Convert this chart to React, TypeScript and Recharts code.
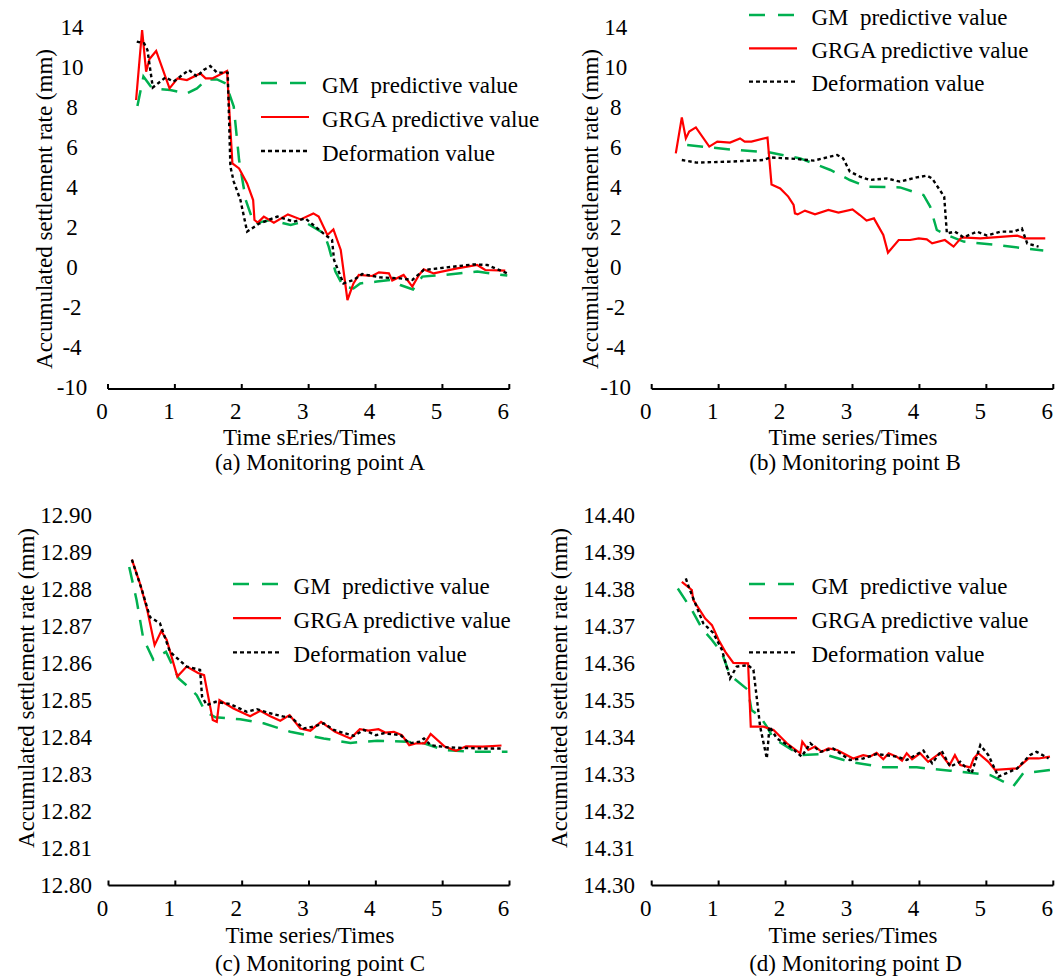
import React from 'react';
import { LineChart, Line, XAxis, YAxis, Legend } from 'recharts';

const FONT = '"Liberation Serif", "DejaVu Serif", "Times New Roman", serif';
const FS = 23;
const TEXT_STYLE = { fontFamily: FONT, fontSize: FS };

// ---- axis ticks and labels ----
const TIME_TICKS = [0, 1, 2, 3, 4, 5, 6];
const MARK_TICKS = [0, 1, 2, 3, 4, 5, 6, 7, 8, 9];
const RATE_TICKS_AB = [-6, -4, -2, 0, 2, 4, 6, 8, 10, 12];
const RATE_LABELS_AB = ['-10', '-4', '-2', '0', '2', '4', '6', '8', '10', '14'];
const RATE_TICKS_C = [12.8, 12.81, 12.82, 12.83, 12.84, 12.85, 12.86, 12.87, 12.88, 12.89, 12.9];
const RATE_TICKS_D = [14.3, 14.31, 14.32, 14.33, 14.34, 14.35, 14.36, 14.37, 14.38, 14.39, 14.4];

// ---- monitoring point A: [time, rate] ----
const gmA = [[0.44, 8.05], [0.53, 9.52], [0.66, 8.93], [0.93, 8.85], [1.18, 8.68], [1.33, 8.93], [1.48, 9.38], [1.63, 9.38], [1.76, 9.18], [1.88, 8.02], [1.96, 5.35], [2.06, 3.35], [2.18, 2.18], [2.43, 2.35], [2.73, 2.1], [2.93, 2.27], [3.23, 1.68], [3.3, 1.02], [3.4, -0.23], [3.52, -0.98], [3.67, -1.07], [3.77, -0.82], [4.02, -0.73], [4.22, -0.65], [4.37, -0.9], [4.56, -1.12], [4.7, -0.48], [5.02, -0.4], [5.52, -0.23], [5.97, -0.43]];
const grgaA = [[0.42, 8.35], [0.51, 11.85], [0.57, 9.77], [0.62, 10.4], [0.72, 10.8], [0.92, 8.93], [1.04, 9.43], [1.18, 9.35], [1.38, 9.68], [1.46, 9.43], [1.56, 9.43], [1.78, 9.8], [1.86, 5.18], [1.96, 4.93], [2.08, 4.18], [2.17, 3.35], [2.19, 2.35], [2.24, 2.22], [2.33, 2.52], [2.48, 2.22], [2.69, 2.63], [2.88, 2.38], [3.07, 2.68], [3.15, 2.52], [3.28, 1.6], [3.37, 1.88], [3.48, 0.85], [3.58, -1.65], [3.67, -0.82], [3.75, -0.4], [3.95, -0.45], [4.05, -0.27], [4.2, -0.32], [4.25, -0.68], [4.42, -0.4], [4.55, -0.98], [4.65, -0.4], [4.72, -0.12], [4.87, -0.32], [5.22, -0.07], [5.52, 0.1], [5.64, -0.15], [5.94, -0.18]];
const defA = [[0.43, 11.27], [0.54, 11.18], [0.59, 10.85], [0.67, 8.98], [0.86, 9.48], [0.98, 9.27], [1.21, 9.85], [1.33, 9.52], [1.43, 9.85], [1.53, 10.05], [1.63, 9.72], [1.79, 9.72], [1.83, 5.02], [1.88, 4.27], [1.98, 3.35], [2.08, 1.77], [2.25, 2.15], [2.53, 2.52], [2.78, 2.27], [2.95, 2.43], [3.25, 1.6], [3.35, 1.35], [3.38, 0.35], [3.52, -0.82], [3.67, -0.65], [3.8, -0.35], [4.07, -0.52], [4.37, -0.57], [4.55, -0.65], [4.72, -0.15], [5.12, 0], [5.47, 0.13], [5.67, 0.1], [5.97, -0.32]];

// ---- monitoring point B ----
const gmB = [[0.53, 6.1], [1.17, 5.88], [1.77, 5.72], [2.22, 5.43], [2.67, 4.85], [2.96, 4.35], [3.21, 4.02], [3.71, 3.98], [4.06, 3.6], [4.16, 3.02], [4.26, 1.85], [4.41, 1.6], [4.66, 1.27], [5.16, 1.1], [5.85, 0.82]];
const grgaB = [[0.36, 5.68], [0.45, 7.48], [0.51, 6.43], [0.56, 6.77], [0.66, 6.98], [0.86, 6.02], [0.98, 6.27], [1.17, 6.22], [1.32, 6.43], [1.39, 6.27], [1.49, 6.27], [1.73, 6.47], [1.79, 4.13], [1.92, 3.93], [2.04, 3.52], [2.12, 3.1], [2.14, 2.68], [2.18, 2.63], [2.29, 2.82], [2.44, 2.63], [2.64, 2.85], [2.79, 2.72], [3.0, 2.88], [3.11, 2.6], [3.21, 2.32], [3.32, 2.43], [3.46, 1.6], [3.53, 0.72], [3.69, 1.35], [3.86, 1.35], [3.99, 1.43], [4.11, 1.38], [4.19, 1.18], [4.38, 1.35], [4.51, 1.02], [4.63, 1.48], [4.91, 1.43], [5.26, 1.52], [5.46, 1.57], [5.58, 1.43], [5.88, 1.43]];
const defB = [[0.45, 5.35], [0.67, 5.22], [1.17, 5.27], [1.67, 5.35], [1.77, 5.48], [2.17, 5.4], [2.42, 5.32], [2.77, 5.6], [2.86, 5.43], [2.96, 4.77], [3.11, 4.52], [3.26, 4.35], [3.51, 4.43], [3.71, 4.27], [3.96, 4.48], [4.11, 4.57], [4.19, 4.43], [4.33, 3.72], [4.37, 3.52], [4.41, 1.68], [4.53, 1.77], [4.66, 1.48], [4.86, 1.77], [5.01, 1.57], [5.21, 1.77], [5.41, 1.77], [5.53, 1.93], [5.61, 1.18], [5.78, 1.02]];

// ---- monitoring point C ----
const gmC = [[0.31, 12.886], [0.42, 12.8771], [0.52, 12.8667], [0.67, 12.861], [0.86, 12.8631], [1.05, 12.8559], [1.22, 12.8532], [1.32, 12.8514], [1.45, 12.8469], [1.6, 12.8454], [1.97, 12.8449], [2.32, 12.8438], [2.72, 12.8415], [3.22, 12.8397], [3.62, 12.8385], [4.02, 12.8391], [4.47, 12.8388], [4.72, 12.8384], [5.02, 12.8366], [5.47, 12.8361], [5.97, 12.8361]];
const grgaC = [[0.35, 12.888], [0.47, 12.8816], [0.58, 12.8744], [0.69, 12.8649], [0.79, 12.8687], [0.87, 12.8664], [1.03, 12.8564], [1.17, 12.8591], [1.34, 12.8574], [1.43, 12.8568], [1.56, 12.8447], [1.62, 12.8442], [1.66, 12.8501], [1.87, 12.8478], [2.12, 12.8457], [2.27, 12.8472], [2.42, 12.8457], [2.57, 12.8445], [2.71, 12.846], [2.87, 12.8424], [3.02, 12.8418], [3.18, 12.8442], [3.39, 12.8415], [3.62, 12.8397], [3.76, 12.8422], [3.89, 12.8418], [4.04, 12.8422], [4.14, 12.8413], [4.27, 12.8415], [4.39, 12.8406], [4.5, 12.8379], [4.61, 12.8384], [4.73, 12.8384], [4.82, 12.8409], [5.03, 12.8375], [5.2, 12.8364], [5.35, 12.8376], [5.6, 12.8375], [5.88, 12.8378]];
const defC = [[0.35, 12.888], [0.5, 12.8798], [0.62, 12.8725], [0.77, 12.8708], [0.92, 12.8631], [1.17, 12.8591], [1.37, 12.8582], [1.4, 12.851], [1.47, 12.8487], [1.6, 12.8496], [1.82, 12.849], [2.07, 12.8469], [2.22, 12.8476], [2.42, 12.8465], [2.62, 12.8456], [2.72, 12.8456], [2.92, 12.8424], [3.07, 12.8429], [3.22, 12.8438], [3.37, 12.842], [3.67, 12.8404], [3.82, 12.842], [4.0, 12.8406], [4.12, 12.8411], [4.37, 12.8406], [4.5, 12.8384], [4.65, 12.8388], [4.72, 12.8397], [4.82, 12.8379], [5.07, 12.8373], [5.22, 12.8372], [5.62, 12.837], [5.88, 12.837]];

// ---- monitoring point D ----
const gmD = [[0.39, 14.3802], [0.6, 14.3744], [0.75, 14.3694], [0.9, 14.3663], [1.05, 14.3627], [1.17, 14.3568], [1.44, 14.3528], [1.49, 14.3474], [1.62, 14.3456], [1.72, 14.3429], [1.82, 14.3397], [2.02, 14.3375], [2.22, 14.3352], [2.57, 14.3355], [2.96, 14.3334], [3.46, 14.3319], [3.96, 14.3319], [4.46, 14.331], [5.06, 14.3298], [5.4, 14.3267], [5.55, 14.3303], [5.95, 14.3312]];
const grgaD = [[0.45, 14.382], [0.6, 14.3798], [0.62, 14.3771], [0.8, 14.3721], [0.9, 14.3703], [1.0, 14.3663], [1.1, 14.3631], [1.22, 14.3601], [1.44, 14.36], [1.48, 14.3429], [1.67, 14.3429], [1.82, 14.342], [2.02, 14.3384], [2.22, 14.3357], [2.25, 14.3388], [2.34, 14.3366], [2.44, 14.3375], [2.54, 14.3361], [2.64, 14.337], [2.77, 14.3366], [3.01, 14.3343], [3.16, 14.3352], [3.26, 14.3348], [3.36, 14.3358], [3.46, 14.3341], [3.54, 14.3357], [3.66, 14.3348], [3.74, 14.3337], [3.81, 14.3357], [3.89, 14.3341], [4.01, 14.3357], [4.13, 14.3334], [4.31, 14.3358], [4.45, 14.3325], [4.53, 14.3352], [4.61, 14.3325], [4.76, 14.3319], [4.81, 14.3343], [4.88, 14.3357], [5.03, 14.3334], [5.13, 14.3312], [5.46, 14.3316], [5.63, 14.3343], [5.78, 14.3343], [5.95, 14.3348]];
const defD = [[0.51, 14.3829], [0.55, 14.3808], [0.65, 14.3762], [0.77, 14.3708], [0.92, 14.3682], [1.05, 14.3636], [1.17, 14.3559], [1.27, 14.3591], [1.44, 14.3595], [1.52, 14.3582], [1.55, 14.3537], [1.62, 14.3429], [1.72, 14.3343], [1.76, 14.3429], [1.87, 14.3397], [2.07, 14.3375], [2.24, 14.3348], [2.37, 14.3384], [2.52, 14.3361], [2.71, 14.337], [2.96, 14.3339], [3.16, 14.3343], [3.36, 14.3355], [3.66, 14.3348], [3.81, 14.3339], [4.06, 14.3364], [4.19, 14.333], [4.33, 14.3364], [4.46, 14.3321], [4.61, 14.3334], [4.78, 14.3303], [4.91, 14.3379], [5.03, 14.3352], [5.18, 14.3294], [5.46, 14.3316], [5.65, 14.3352], [5.75, 14.3361], [5.93, 14.3343]];

// ---- series styling ----
const SERIES = [
  { key: 'gm', name: 'GM  predictive value', color: '#00b050', width: 2.5, dash: '16 11', legendDash: '16 13' },
  { key: 'grga', name: 'GRGA predictive value', color: '#ff0000', width: 2.2, dash: undefined, legendDash: undefined },
  { key: 'def', name: 'Deformation value', color: '#000000', width: 2.4, dash: '3.5 3', legendDash: '4 3' },
];

const toPoints = (pairs: number[][]) => pairs.map(([x, y]) => ({ x, y }));

const fmtAB = (v: number) => RATE_LABELS_AB[RATE_TICKS_AB.indexOf(v)] ?? String(v);
const fmt2 = (v: number) => v.toFixed(2);

// ---- tick and title renderers ----
const TimeTick = (props: any) => {
  const { x, y, payload } = props;
  return (
    <text x={x - 6} y={y} dy="0.34em" textAnchor="middle" style={TEXT_STYLE} fill="#000">
      {payload.value}
    </text>
  );
};

const RateTick = (props: any) => {
  const { x, y, payload, fmt, anchor } = props;
  return (
    <text x={x} y={y} dy="0.34em" textAnchor={anchor} style={TEXT_STYLE} fill="#000">
      {fmt(payload.value)}
    </text>
  );
};

const RateTitle = (props: any) => {
  const { bx, cy } = props;
  return (
    <text transform={`translate(${bx}, ${cy}) rotate(-90)`} textAnchor="middle" style={TEXT_STYLE} fill="#000">
      Accumulated settlement rate (mm)
    </text>
  );
};

const TimeTitles = (props: any) => {
  const { title, tx, ty, caption, cx, cy } = props;
  return (
    <g>
      <text x={tx} y={ty} textAnchor="middle" style={TEXT_STYLE} fill="#000">{title}</text>
      <text x={cx} y={cy} textAnchor="middle" style={TEXT_STYLE} fill="#000">{caption}</text>
    </g>
  );
};

const LegendBox = ({ textDx, gap }: { textDx: number; gap: number }) => (
  <svg width={320} height={120} style={{ display: 'block', overflow: 'visible' }}>
    {SERIES.map((s, i) => {
      const y = 20 + gap * i;
      return (
        <g key={s.key}>
          <line x1={5} x2={53} y1={y} y2={y} stroke={s.color} strokeWidth={s.width} strokeDasharray={s.legendDash} />
          <text x={5 + textDx} y={y + 9.6} fill="#000" style={{ ...TEXT_STYLE, whiteSpace: 'pre' }}>
            {s.name}
          </text>
        </g>
      );
    })}
  </svg>
);

// ---- panel layouts ----
const PANELS = [
  {
    id: 'A', left: 0, top: 0, width: 527, height: 480, mTop: 10, mRight: 17.7, yWidth: 108, xHeight: 91,
    domain: [-6.1, 12.85], markDomain: [0, 9.2], ticks: RATE_TICKS_AB, fmt: fmtAB, labelGap: 36, anchor: 'middle',
    yTitle: { bx: 51.7, cy: 209 },
    xTitle: { title: 'Time sEries/Times', tx: 309.5, ty: 445, caption: '(a) Monitoring point A', cx: 320, cy: 470 },
    legend: { left: 255.7, top: 63, gap: 34, textDx: 61 },
    series: [gmA, grgaA, defA],
  },
  {
    id: 'B', left: 527, top: 0, width: 528, height: 480, mTop: 10, mRight: 1.7, yWidth: 124.7, xHeight: 91,
    domain: [-6.1, 12.85], markDomain: [0, 9.2], ticks: RATE_TICKS_AB, fmt: fmtAB, labelGap: 36, anchor: 'middle',
    yTitle: { bx: 71, cy: 209 },
    xTitle: { title: 'Time series/Times', tx: 326, ty: 445, caption: '(b) Monitoring point B', cx: 328, cy: 470 },
    legend: { left: 217.3, top: -4.7, gap: 33.3, textDx: 62.4 },
    series: [gmB, grgaB, defB],
  },
  {
    id: 'C', left: 0, top: 490, width: 527, height: 487, mTop: 17, mRight: 17.5, yWidth: 108.5, xHeight: 91.5,
    domain: [12.8, 12.9022], markDomain: [0, 9.194], ticks: RATE_TICKS_C, fmt: fmt2, labelGap: 16.5, anchor: 'end',
    yTitle: { bx: 34, cy: 198 },
    xTitle: { title: 'Time series/Times', tx: 310, ty: 453, caption: '(c) Monitoring point C', cx: 320, cy: 481 },
    legend: { left: 227.7, top: 73.5, gap: 34.2, textDx: 60.6 },
    series: [gmC, grgaC, defC],
  },
  {
    id: 'D', left: 527, top: 490, width: 528, height: 487, mTop: 17, mRight: 1.7, yWidth: 124.7, xHeight: 91.5,
    domain: [14.3, 14.4022], markDomain: [0, 9.194], ticks: RATE_TICKS_D, fmt: fmt2, labelGap: 16.7, anchor: 'end',
    yTitle: { bx: 40, cy: 198 },
    xTitle: { title: 'Time series/Times', tx: 326, ty: 453, caption: '(d) Monitoring point D', cx: 328.5, cy: 481 },
    legend: { left: 217.3, top: 73.5, gap: 34.2, textDx: 62.4 },
    series: [gmD, grgaD, defD],
  },
];

const AXIS_STROKE = { stroke: '#000', strokeWidth: 2 };

function Panel({ cfg }: { cfg: any }) {
  return (
    <div style={{ position: 'absolute', left: cfg.left, top: cfg.top }}>
      <LineChart width={cfg.width} height={cfg.height} margin={{ top: cfg.mTop, right: cfg.mRight, bottom: 0, left: 0 }}>
        <XAxis
          type="number"
          dataKey="x"
          domain={[0, 6]}
          ticks={TIME_TICKS}
          interval={0}
          allowDataOverflow
          height={cfg.xHeight}
          axisLine={AXIS_STROKE}
          tickLine={AXIS_STROKE}
          tickSize={-5}
          tickMargin={27.5}
          tick={<TimeTick />}
          label={<TimeTitles {...cfg.xTitle} />}
        />
        <YAxis
          yAxisId="v"
          type="number"
          domain={cfg.domain}
          ticks={cfg.ticks}
          interval={0}
          allowDataOverflow
          width={cfg.yWidth}
          axisLine={false}
          tickLine={false}
          tickSize={0}
          tickMargin={cfg.labelGap}
          tick={<RateTick fmt={cfg.fmt} anchor={cfg.anchor} />}
          label={<RateTitle {...cfg.yTitle} />}
        />
        <YAxis
          yAxisId="t"
          type="number"
          domain={cfg.markDomain}
          ticks={MARK_TICKS}
          interval={0}
          allowDataOverflow
          mirror
          width={0}
          axisLine={AXIS_STROKE}
          tickLine={AXIS_STROKE}
          tickSize={10}
          tick={false}
        />
        {SERIES.map((s, i) => (
          <Line
            key={s.key}
            yAxisId="v"
            data={toPoints(cfg.series[i])}
            dataKey="y"
            name={s.name}
            type="linear"
            stroke={s.color}
            strokeWidth={s.width}
            strokeDasharray={s.dash}
            dot={false}
            activeDot={false}
            isAnimationActive={false}
          />
        ))}
        <Legend
          layout="vertical"
          align="center"
          verticalAlign="middle"
          wrapperStyle={{ left: cfg.legend.left, top: cfg.legend.top, width: 320, height: 120 }}
          content={() => <LegendBox textDx={cfg.legend.textDx} gap={cfg.legend.gap} />}
        />
      </LineChart>
    </div>
  );
}

export default function App() {
  return (
    <div style={{ position: 'absolute', left: 0, top: 0, width: 1055, height: 977, background: '#fff' }}>
      {PANELS.map((p) => (
        <Panel key={p.id} cfg={p} />
      ))}
    </div>
  );
}
